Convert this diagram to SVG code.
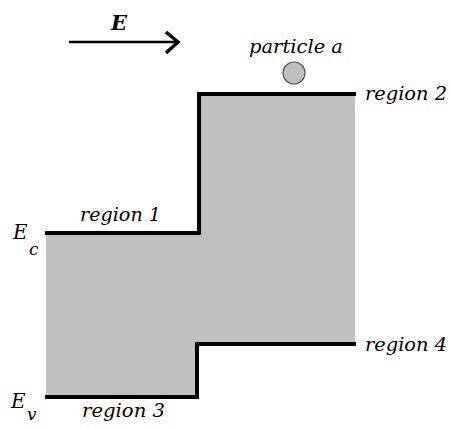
<svg xmlns="http://www.w3.org/2000/svg" width="451" height="428" viewBox="0 0 451 428">
<style>
.lbl{font-family:"DejaVu Serif","Liberation Serif",serif;font-style:italic;font-size:18px;fill:#000}
.edge{fill:none;stroke:#000;stroke-width:4;stroke-linecap:square}
</style>
<rect width="451" height="428" fill="#fff"/>
<g id="band">
<path d="M46,233 H199 V94 H355 V344 H197 V397 H46 Z" fill="#c0c0c0"/>
</g>
<g id="connectors">
<polyline class="edge" points="47,233 199,233 199,94 354,94"/>
<polyline class="edge" points="47,397 197,397 197,344 354,344"/>
<line x1="69" y1="42" x2="177" y2="42" stroke="#000" stroke-width="2.5"/>
<polyline points="166,32 178,42 166,53" fill="none" stroke="#000" stroke-width="3.5"/>
</g>
<g id="E-field">
<text x="111" y="30" style="font-family:'DejaVu Serif','Liberation Serif',serif;font-style:italic;font-weight:bold;font-size:21px">E</text>
</g>
<g id="particle">
<circle cx="294" cy="73" r="11" fill="#c0c0c0" stroke="#555" stroke-width="1.2"/>
<text class="lbl" x="249" y="53" textLength="94" lengthAdjust="spacingAndGlyphs">particle a</text>
</g>
<g id="region1"><text class="lbl" x="80" y="221" textLength="81" lengthAdjust="spacingAndGlyphs">region 1</text></g>
<g id="region2"><text class="lbl" x="365" y="100" textLength="82" lengthAdjust="spacingAndGlyphs">region 2</text></g>
<g id="region3"><text class="lbl" x="82" y="417" textLength="83" lengthAdjust="spacingAndGlyphs">region 3</text></g>
<g id="region4"><text class="lbl" x="365" y="351" textLength="82" lengthAdjust="spacingAndGlyphs">region 4</text></g>
<g id="Ec"><text class="lbl" x="13" y="239" style="font-size:20px">E</text><text class="lbl" x="29" y="255" style="font-size:17px">c</text></g>
<g id="Ev"><text class="lbl" x="11" y="408" style="font-size:20px">E</text><text class="lbl" x="27" y="420" style="font-size:17px">v</text></g>
</svg>
